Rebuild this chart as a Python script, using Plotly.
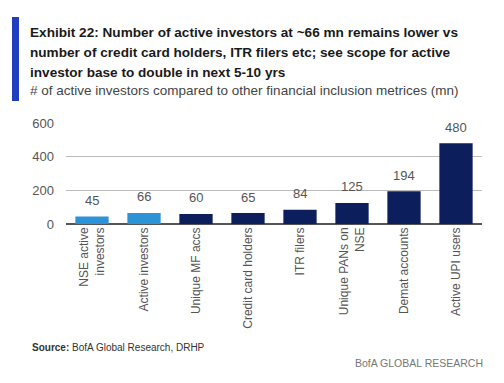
import plotly.graph_objects as go

categories = ["NSE active<br>investors", "Active investors", "Unique MF accs",
              "Credit card holders", "ITR filers", "Unique PANs on<br>NSE",
              "Demat accounts", "Active UPI users"]
values = [45, 66, 60, 65, 84, 125, 194, 480]
bar_colors = ["#2B93D6", "#2B93D6", "#0C1E5B", "#0C1E5B", "#0C1E5B",
              "#0C1E5B", "#0C1E5B", "#0C1E5B"]
y_ticks = [0, 200, 400, 600]

FONT = "Liberation Sans, Arial, sans-serif"

fig = go.Figure()
fig.add_trace(go.Bar(x=categories, y=values, marker_color=bar_colors,
                     marker_line_width=0, hoverinfo="skip"))

for c, v in zip(categories, values):
    fig.add_annotation(x=c, y=v, text=str(v), showarrow=False, yanchor="middle",
                       yshift=16, font=dict(family=FONT, size=13, color="#555555"))

fig.update_layout(
    width=504, height=383,
    margin=dict(l=66, r=22, t=123, b=159),
    paper_bgcolor="white", plot_bgcolor="white",
    bargap=0.36, showlegend=False,
    font=dict(family=FONT, size=12, color="#555555"),
)
fig.update_xaxes(tickangle=-90, showgrid=False, showline=False, ticks="",
                 tickfont=dict(family=FONT, size=12, color="#555555"))
fig.update_yaxes(range=[0, 600], tickvals=y_ticks, showgrid=True,
                 gridcolor="#BBBBBB", gridwidth=1, zeroline=True,
                 zerolinecolor="#555555", zerolinewidth=2, ticks="",
                 ticklabelstandoff=11,
                 tickfont=dict(family=FONT, size=13, color="#555555"))

# left accent bar
fig.add_shape(type="rect", xref="paper", yref="paper",
              x0=-54/416, x1=-47/416, y0=(224-17)/101, y1=(224-101)/101,
              fillcolor="#1F3FBF", line_width=0)

title_lines = ["Exhibit 22: Number of active investors at ~66 mn remains lower vs",
               "number of credit card holders, ITR filers etc; see scope for active",
               "investor base to double in next 5-10 yrs"]
ys = [32, 52, 72]
for t, yy in zip(title_lines, ys):
    fig.add_annotation(xref="paper", yref="paper", x=-38/416, y=(224-yy)/101,
                       xanchor="left", yanchor="middle", showarrow=False,
                       text="<b>" + t + "</b>",
                       font=dict(family=FONT, size=13.6, color="#1A1A1A"))
fig.add_annotation(xref="paper", yref="paper", x=-38/416, y=(224-90)/101,
                   xanchor="left", yanchor="middle", showarrow=False,
                   text="# of active investors compared to other financial inclusion metrices (mn)",
                   font=dict(family=FONT, size=13.5, color="#444444"))
fig.add_annotation(xref="paper", yref="paper", x=-36/416, y=(224-347)/101,
                   xanchor="left", yanchor="middle", showarrow=False,
                   text="<b>Source:</b> BofA Global Research, DRHP",
                   font=dict(family=FONT, size=10, color="#333333"))
fig.add_annotation(xref="paper", yref="paper", x=(485-66)/416, y=(224-363)/101,
                   xanchor="right", yanchor="middle", showarrow=False,
                   text="BofA GLOBAL RESEARCH",
                   font=dict(family=FONT, size=10.5, color="#777777"))

fig.write_html("out.html")
